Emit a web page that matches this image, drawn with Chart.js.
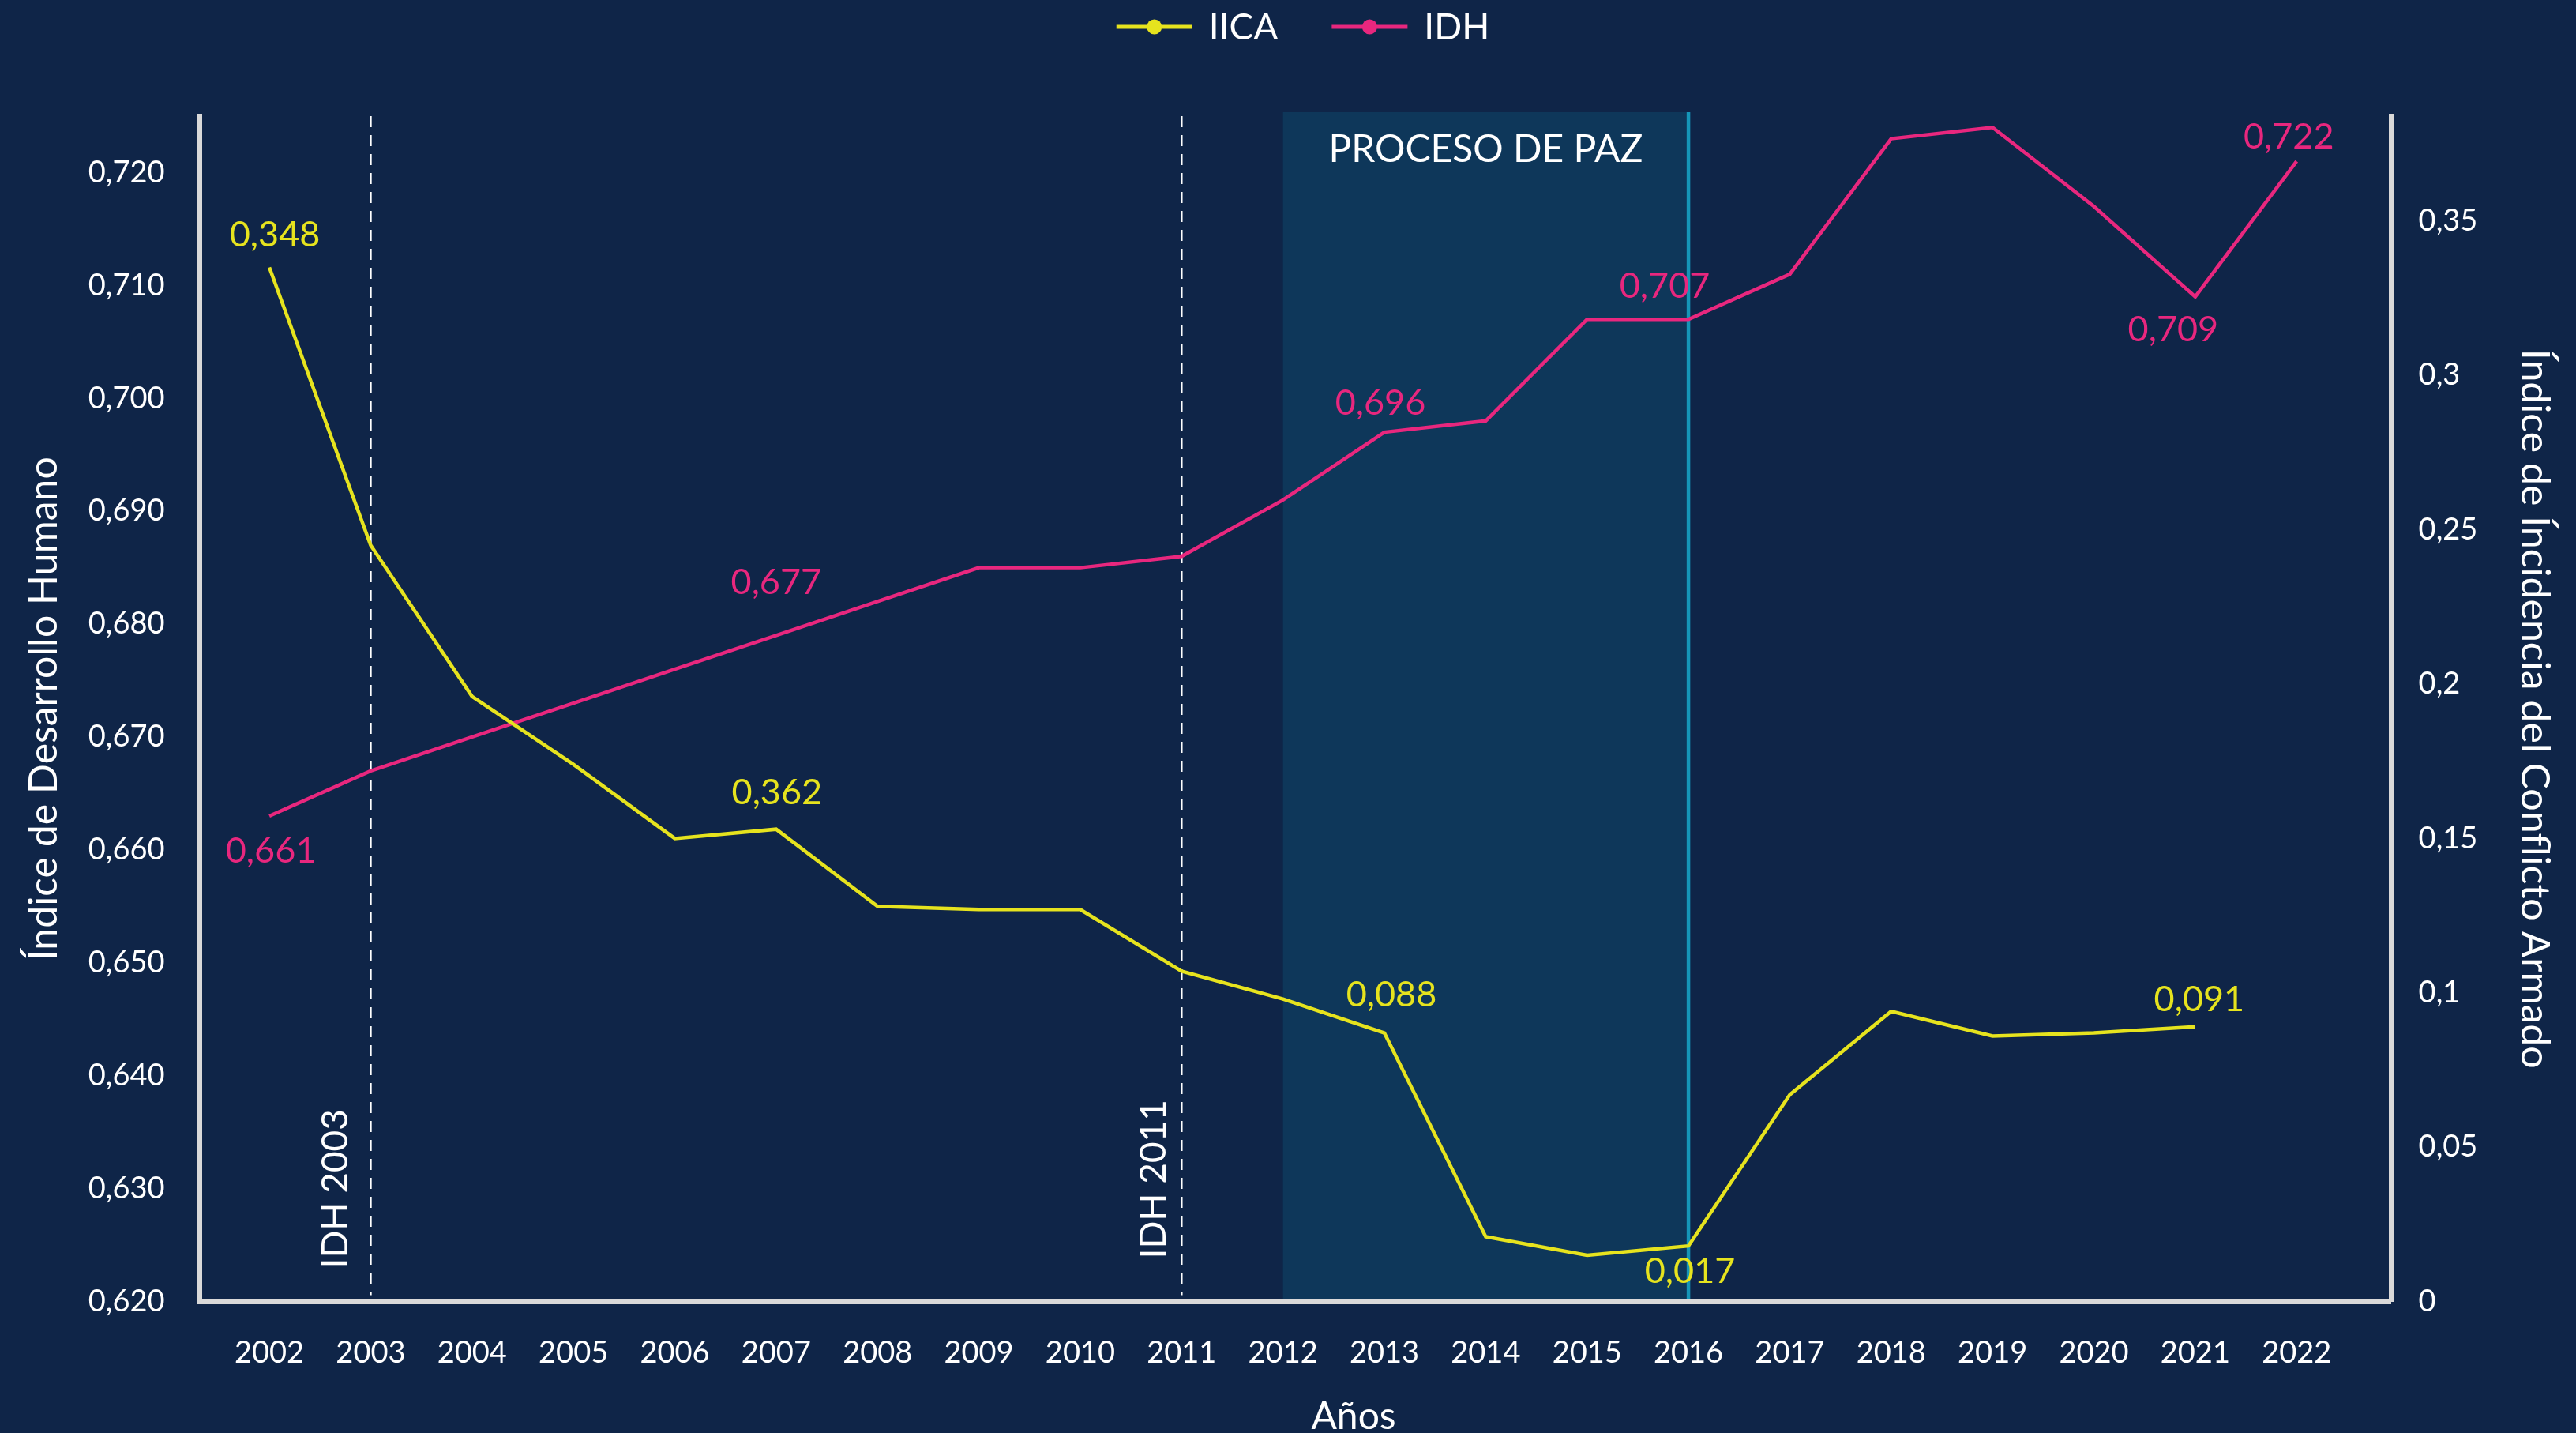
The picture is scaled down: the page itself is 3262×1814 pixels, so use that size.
<!DOCTYPE html>
<html lang="es">
<head>
<meta charset="utf-8">
<title>IDH e IICA</title>
<script src="https://cdn.jsdelivr.net/npm/chart.js@4.4.1/dist/chart.umd.min.js"></script>
<style>
  html, body { margin: 0; padding: 0; background: #0f2548; }
  canvas { display: block; }
</style>
</head>
<body>
<canvas id="grafico" width="3262" height="1814"></canvas>
<script>
// datos
const anios = [2002, 2003, 2004, 2005, 2006, 2007, 2008, 2009, 2010, 2011, 2012,
               2013, 2014, 2015, 2016, 2017, 2018, 2019, 2020, 2021, 2022];
const iica = [0.335, 0.245, 0.196, 0.174, 0.150, 0.153, 0.128, 0.127, 0.127, 0.107, 0.098,
              0.087, 0.021, 0.015, 0.018, 0.067, 0.094, 0.086, 0.087, 0.089, null];
const idh = [0.663, 0.667, 0.670, 0.673, 0.676, 0.679, 0.682, 0.685, 0.685, 0.686, 0.691,
             0.697, 0.698, 0.707, 0.707, 0.711, 0.723, 0.724, 0.717, 0.709, 0.721];

// etiquetas tal como aparecen en la imagen
const etiquetasIica = { 2002: '0,348', 2007: '0,362', 2013: '0,088', 2016: '0,017', 2021: '0,091' };
const etiquetasIdh = { 2002: '0,661', 2007: '0,677', 2013: '0,696', 2016: '0,707', 2021: '0,709', 2022: '0,722' };

const ticksIdh = [0.62, 0.63, 0.64, 0.65, 0.66, 0.67, 0.68, 0.69, 0.70, 0.71, 0.72];
const ticksIdhTxt = ['0,620', '0,630', '0,640', '0,650', '0,660', '0,670', '0,680', '0,690', '0,700', '0,710', '0,720'];
const ticksIica = [0, 0.05, 0.1, 0.15, 0.2, 0.25, 0.3, 0.35];
const ticksIicaTxt = ['0', '0,05', '0,1', '0,15', '0,2', '0,25', '0,3', '0,35'];

const hitos = [{ anio: 2003, texto: 'IDH 2003' }, { anio: 2011, texto: 'IDH 2011' }];
const procesoPaz = { desde: 2012, hasta: 2016, texto: 'PROCESO DE PAZ' };

// estilos
const fondo = '#0f2548';
const sombra = '#0e375a';
const turquesa = '#1596b8';
const amarillo = '#e6e31e';
const rosa = '#e8277e';
const ejeColor = '#d9d9d9';
const fuente = 'Lato';

// desplazamiento de cada etiqueta respecto a su punto [dx, dy]
const despIica = { 2002: [7, -41], 2007: [1, -46], 2013: [9, -48], 2016: [2, 32], 2021: [5, -34] };
const despIdh = { 2002: [2, 44], 2007: [0, -67], 2013: [-5, -37], 2016: [-30, -42], 2021: [-28, 42], 2022: [-10, -31] };
const despHitos = { 2003: [-44, -42], 2011: [-35, -54] };

Chart.defaults.font.family = fuente;
Chart.defaults.color = '#ffffff';

const decoraciones = {
  id: 'decoraciones',
  beforeDraw(chart) {
    const ctx = chart.ctx;
    ctx.save();
    ctx.fillStyle = fondo;
    ctx.fillRect(0, 0, chart.width, chart.height);
    ctx.restore();
  },
  beforeDatasetsDraw(chart) {
    const { ctx, chartArea: a, scales: { x } } = chart;
    ctx.save();
    // franja proceso de paz
    const x0 = x.getPixelForValue(procesoPaz.desde);
    const x1 = x.getPixelForValue(procesoPaz.hasta);
    ctx.fillStyle = sombra;
    ctx.fillRect(x0, a.top - 5, x1 - x0, a.bottom - a.top + 2);
    ctx.strokeStyle = turquesa;
    ctx.lineWidth = 4.5;
    ctx.beginPath();
    ctx.moveTo(x1, a.top - 5);
    ctx.lineTo(x1, a.bottom - 3);
    ctx.stroke();
    ctx.fillStyle = '#ffffff';
    ctx.font = '48px ' + fuente;
    ctx.textAlign = 'center';
    ctx.textBaseline = 'middle';
    ctx.fillText(procesoPaz.texto, (x0 + x1) / 2, a.top + 43);

    // lineas punteadas
    hitos.forEach(h => {
      const px = x.getPixelForValue(h.anio);
      ctx.strokeStyle = '#ffffff';
      ctx.lineWidth = 2.5;
      ctx.setLineDash([14, 10]);
      ctx.beginPath();
      ctx.moveTo(px, a.top);
      ctx.lineTo(px, a.bottom - 8);
      ctx.stroke();
      ctx.setLineDash([]);
      const d = despHitos[h.anio];
      ctx.save();
      ctx.translate(px + d[0], a.bottom + d[1]);
      ctx.rotate(-Math.PI / 2);
      ctx.textAlign = 'left';
      ctx.textBaseline = 'middle';
      ctx.font = '46px ' + fuente;
      ctx.fillText(h.texto, 0, 0);
      ctx.restore();
    });
    ctx.restore();
  },
  afterDatasetsDraw(chart) {
    const ctx = chart.ctx;
    ctx.save();
    ctx.font = '45px ' + fuente;
    ctx.textAlign = 'center';
    ctx.textBaseline = 'middle';
    const poner = (idx, etiquetas, desp, color) => {
      const meta = chart.getDatasetMeta(idx);
      anios.forEach((an, i) => {
        if (!etiquetas[an]) return;
        const p = meta.data[i];
        const d = desp[an];
        ctx.fillStyle = color;
        ctx.fillText(etiquetas[an], p.x + d[0], p.y + d[1]);
      });
    };
    poner(0, etiquetasIica, despIica, amarillo);
    poner(1, etiquetasIdh, despIdh, rosa);
    ctx.restore();
  },
  afterDraw(chart) {
    const { ctx, chartArea: a } = chart;
    ctx.save();
    // leyenda
    ctx.font = '46px ' + fuente;
    ctx.textBaseline = 'middle';
    ctx.textAlign = 'left';
    const items = chart.data.datasets.map(d => ({ texto: d.label, color: d.borderColor, w: ctx.measureText(d.label).width }));
    const total = items.reduce((s, it) => s + 96 + 21 + it.w, 0) + 68 * (items.length - 1);
    let cx = (a.left + a.right) / 2 + 10 - total / 2;
    const ly = 34;
    items.forEach(it => {
      ctx.strokeStyle = it.color;
      ctx.lineWidth = 5;
      ctx.beginPath();
      ctx.moveTo(cx, ly);
      ctx.lineTo(cx + 96, ly);
      ctx.stroke();
      ctx.fillStyle = it.color;
      ctx.beginPath();
      ctx.arc(cx + 48, ly, 9.5, 0, Math.PI * 2);
      ctx.fill();
      ctx.fillStyle = '#ffffff';
      ctx.fillText(it.texto, cx + 96 + 21, ly + 1);
      cx += 96 + 21 + it.w + 68;
    });
    // titulo eje x
    ctx.font = '48px ' + fuente;
    ctx.textAlign = 'center';
    ctx.fillText('Años', (a.left + a.right) / 2 + 74, a.bottom + 146);
    ctx.restore();
  }
};

const ctx = document.getElementById('grafico');

const grafico = new Chart(ctx, {
  type: 'line',
  data: {
    datasets: [
      {
        label: 'IICA',
        data: anios.map((an, i) => ({ x: an, y: iica[i] })),
        yAxisID: 'y1',
        borderColor: amarillo,
        backgroundColor: amarillo,
        borderWidth: 4.5,
        pointRadius: 0,
        tension: 0
      },
      {
        label: 'IDH',
        data: anios.map((an, i) => ({ x: an, y: idh[i] })),
        yAxisID: 'y',
        borderColor: rosa,
        backgroundColor: rosa,
        borderWidth: 4.5,
        pointRadius: 0,
        tension: 0
      }
    ]
  },
  options: {
    responsive: false,
    animation: false,
    layout: { padding: { top: 147, left: 0, right: 0, bottom: 0 } },
    plugins: {
      legend: { display: false },
      tooltip: { enabled: false }
    },
    scales: {
      x: {
        type: 'linear',
        min: 2001.31,
        max: 2022.93,
        grid: { display: false, drawTicks: false },
        border: { display: true, color: ejeColor, width: 6 },
        afterBuildTicks: s => { s.ticks = anios.map(v => ({ value: v })); },
        afterFit: s => { s.height = 166.5; },
        ticks: {
          autoSkip: false,
          maxRotation: 0,
          padding: 42,
          font: { size: 38 },
          color: '#ffffff',
          callback: v => String(v)
        }
      },
      y: {
        position: 'left',
        min: 0.62,
        max: 0.725,
        grid: { display: false, drawTicks: false },
        border: { display: true, color: ejeColor, width: 6 },
        afterBuildTicks: s => { s.ticks = ticksIdh.map(v => ({ value: v })); },
        afterFit: s => { s.width = 252.5; },
        ticks: {
          padding: 44,
          font: { size: 38 },
          color: '#ffffff',
          callback: (v, i) => ticksIdhTxt[i]
        },
        title: {
          display: true,
          text: 'Índice de Desarrollo Humano',
          color: '#ffffff',
          font: { size: 50 },
          padding: { top: 26, bottom: 0 }
        }
      },
      y1: {
        position: 'right',
        min: 0,
        max: 0.384,
        grid: { display: false, drawTicks: false },
        border: { display: true, color: ejeColor, width: 6 },
        afterBuildTicks: s => { s.ticks = ticksIica.map(v => ({ value: v })); },
        afterFit: s => { s.width = 234.4; },
        ticks: {
          padding: 35,
          font: { size: 38 },
          color: '#ffffff',
          callback: (v, i) => ticksIicaTxt[i]
        },
        title: {
          display: true,
          text: 'Índice de Íncidencia del Conflicto Armado',
          color: '#ffffff',
          font: { size: 50 },
          padding: { top: 23, bottom: 0 }
        }
      }
    }
  },
  plugins: [decoraciones]
});
</script>
</body>
</html>
